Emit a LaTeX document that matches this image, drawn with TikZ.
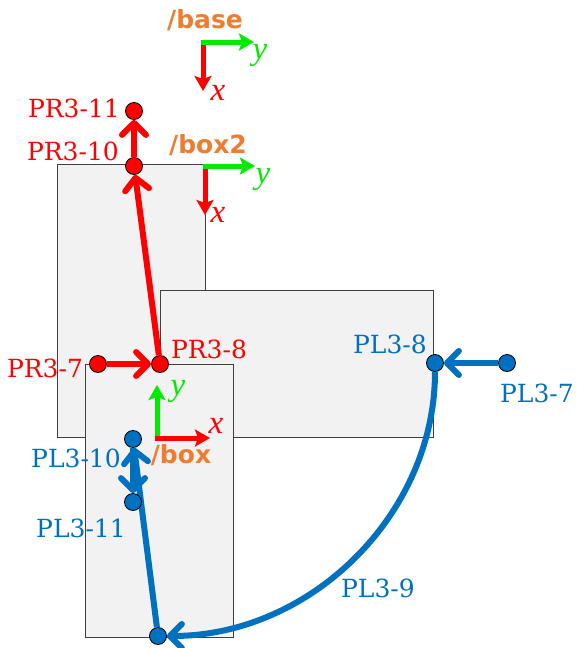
\documentclass[tikz,border=0pt]{standalone}
\usepackage{fontspec}
\usetikzlibrary{arrows.meta}
\newfontfamily\labfont{DejaVu Serif}
\newfontfamily\framefont{DejaVu Sans}
\newfontfamily\axfont{Liberation Serif}
\definecolor{pr}{RGB}{255,0,0}
\definecolor{pl}{RGB}{0,112,192}
\definecolor{fr}{HTML}{ED7D31}
\definecolor{ax}{RGB}{0,235,0}
\definecolor{boxfill}{HTML}{F2F2F2}
\definecolor{boxline}{HTML}{3F3F3F}
\pgfdeclarelayer{boxes}
\pgfdeclarelayer{lines}
\pgfsetlayers{boxes,lines,main}
\begin{document}
\begin{tikzpicture}[x=1pt,y=-1pt,
  part/.style={draw=boxline, fill=boxfill, line width=1pt},
  joint/.style={circle, draw=black, line width=0.8pt, minimum size=17pt, inner sep=0pt},
  rdot/.style={joint, fill=pr},
  bdot/.style={joint, fill=pl},
  link/.style={line width=6pt, -{Straight Barb[length=12pt,width=24pt,round]}},
  rlink/.style={link, draw=pr},
  blink/.style={link, draw=pl},
  axarrow/.style={line width=5pt, -{Stealth[length=15pt,width=17pt,inset=3pt]}},
  lab/.style={font=\labfont\fontsize{25}{25}\selectfont, inner sep=0pt, anchor=base},
  frlab/.style={font=\framefont\bfseries\fontsize{25}{25}\selectfont, text=fr, inner sep=0pt, anchor=base},
  axlab/.style={font=\axfont\itshape\fontsize{33}{33}\selectfont, inner sep=0pt, anchor=base},
]
\useasboundingbox (0,0) rectangle (576,648);

\begin{pgfonlayer}{boxes}
  % three parts
  \draw[part] (57,164) rectangle (205,437);
  \draw[part] (160,290) rectangle (433,437);
  \draw[part] (85,364) rectangle (233,637);

  % frame /base
  \coordinate (b0) at (203,42);
  \coordinate (bx) at (203,91);
  \coordinate (by) at (254,42);
  \draw[axarrow, draw=pr] (b0) -- (bx);
  \draw[axarrow, draw=ax] ([xshift=-2.5pt]b0) -- (by);
  \node[axlab, text=pr] (bxl) at (218,100) {x};
  \node[axlab, text=ax] (byl) at (260,59) {y};
  \node[frlab] (bname) at (205,28) {/base};

  % frame /box2
  \coordinate (c0) at (205,166);
  \coordinate (cx) at (205,215);
  \coordinate (cy) at (255,166);
  \draw[axarrow, draw=pr] (c0) -- (cx);
  \draw[axarrow, draw=ax] ([xshift=-2.5pt]c0) -- (cy);
  \node[axlab, text=pr] (cxl) at (218,222) {x};
  \node[axlab, text=ax] (cyl) at (263,183) {y};
  \node[frlab] (cname) at (208,153) {/box2};

  % frame /box
  \coordinate (d0) at (157,438);
  \coordinate (dx) at (210,438);
  \coordinate (dy) at (157,385);
  \draw[axarrow, draw=ax] (d0) -- (dy);
  \draw[axarrow, draw=pr] ([xshift=-2.5pt]d0) -- (dx);
  \node[axlab, text=pr] (dxl) at (216,433) {x};
  \node[axlab, text=ax] (dyl) at (178,395) {y};
  \node[frlab] (dname) at (181,463) {/box};
\end{pgfonlayer}

% joints
\node[rdot] (pr311) at (134,111) {};
\node[rdot] (pr310) at (134,166) {};
\node[rdot] (pr38) at (160,364) {};
\node[rdot] (pr37) at (98,364) {};
\node[bdot] (pl38) at (435,363) {};
\node[bdot] (pl37) at (507,363) {};
\node[bdot] (pl310) at (133,439) {};
\node[bdot] (pl311) at (133,502) {};
\node[bdot] (pl39) at (158,636) {};

% links
\begin{pgfonlayer}{lines}
  \draw[rlink] (pr37) -- (pr38);
  \draw[rlink] (pr38) -- (pr310);
  \draw[rlink] (pr310) -- (pr311);
  \draw[blink] (pl37) -- (pl38);
  \draw[blink] (pl38) .. controls +(0,151) and +(153,0) .. (pl39);
  \draw[blink] (pl39) -- (pl310);
  \draw[blink] (pl310) -- (pl311);
\end{pgfonlayer}

% joint names
\node[lab, text=pr] (tpr311) at (74,117) {PR3-11};
\node[lab, text=pr] (tpr310) at (73,160) {PR3-10};
\node[lab, text=pr] (tpr38) at (209,358) {PR3-8};
\node[lab, text=pr] (tpr37) at (45,377) {PR3-7};
\node[lab, text=pl] (tpl38) at (390,353) {PL3-8};
\node[lab, text=pl] (tpl37) at (537,402) {PL3-7};
\node[lab, text=pl] (tpl310) at (76,467) {PL3-10};
\node[lab, text=pl] (tpl311) at (81,537) {PL3-11};
\node[lab, text=pl] (tpl39) at (378,597) {PL3-9};
\end{tikzpicture}
\end{document}
